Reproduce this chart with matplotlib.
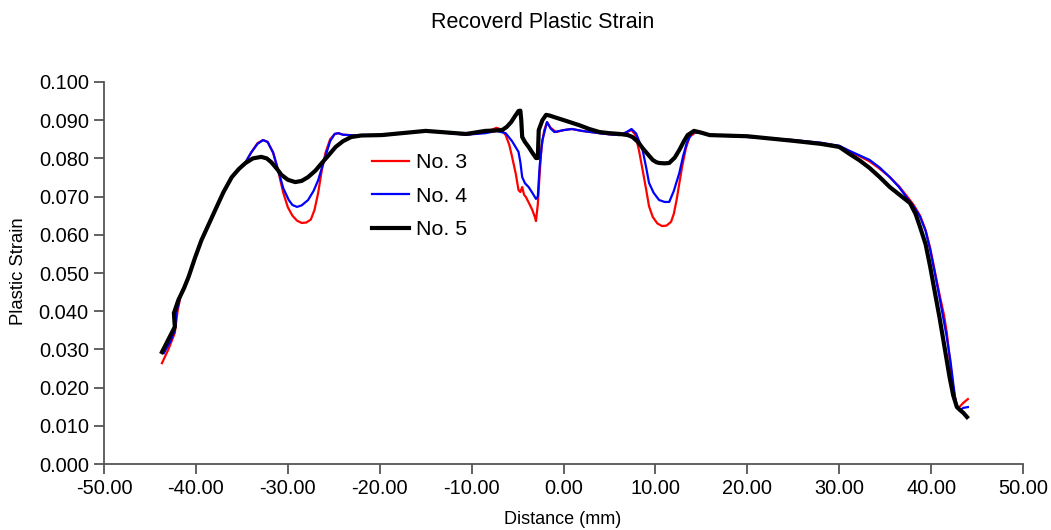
import matplotlib
matplotlib.use("Agg")
import matplotlib.pyplot as plt
from matplotlib.ticker import FormatStrFormatter, MultipleLocator

plt.rcParams['font.family'] = ['Liberation Sans', 'DejaVu Sans']

# No. 3 (red)
x3 = [-43.7, -43.0, -42.3, -42.0, -41.6, -40.8, -40.1, -39.4, -38.6, -37.9, -37.0, -36.1,
      -35.3, -34.6, -34.0, -33.3, -32.7, -32.2, -31.6, -31.0, -30.5, -30.0, -29.5, -29.0,
      -28.5, -28.0, -27.5, -27.1, -26.7, -26.3, -25.9, -25.4, -24.9, -24.5, -24.0, -22.0,
      -19.8, -15.0, -10.6, -8.5, -7.3, -6.8, -6.3, -5.9, -5.6, -5.2, -4.9, -4.7, -4.5,
      -4.3, -4.1, -3.7, -3.4, -3.1, -3.0, -2.8, -2.6, -2.4, -2.1, -1.8, -1.4, -0.8, 0.0,
      0.9, 2.0, 3.9, 5.0, 6.1, 6.8, 7.4, 7.8, 8.2, 8.6, 9.0, 9.3, 9.7, 10.2, 10.7, 11.2,
      11.7, 12.0, 12.3, 12.6, 12.9, 13.3, 13.7, 14.4, 15.0, 15.9, 20.0, 25.0, 28.0, 30.0,
      31.1, 32.2, 33.3, 34.4, 35.5, 36.5, 37.3, 38.1, 38.8, 39.4, 39.9, 40.4, 40.9, 41.4,
      41.7, 42.0, 42.4, 42.8, 43.1, 43.5, 44.0]
y3 = [0.0264, 0.0300, 0.0343, 0.0400, 0.0448, 0.0490, 0.0540, 0.0586, 0.0628, 0.0665, 0.0712, 0.0751,
      0.0773, 0.0790, 0.0815, 0.0840, 0.0848, 0.0843, 0.0815, 0.0762, 0.0710, 0.0672, 0.0650, 0.0637,
      0.0631, 0.0632, 0.0640, 0.0665, 0.0710, 0.0770, 0.0815, 0.0850, 0.0864, 0.0866, 0.0862, 0.0859,
      0.0860, 0.0872, 0.0862, 0.0868, 0.0880, 0.0876, 0.0861, 0.0835, 0.0804, 0.0760, 0.0717, 0.0712, 0.0725,
      0.0705, 0.0699, 0.0680, 0.0665, 0.0645, 0.0636, 0.0680, 0.0760, 0.0830, 0.0874, 0.0895, 0.0880, 0.0869, 0.0874,
      0.0877, 0.0872, 0.0866, 0.0863, 0.0861, 0.0868, 0.0874, 0.0862, 0.0822, 0.0770, 0.0717, 0.0675, 0.0647, 0.0630, 0.0623, 0.0624,
      0.0634, 0.0655, 0.0691, 0.0735, 0.0778, 0.0825, 0.0856, 0.0869, 0.0866, 0.0861, 0.0857, 0.0848, 0.0840, 0.0832,
      0.0819, 0.0806, 0.0792, 0.0773, 0.0751, 0.0727, 0.0703, 0.0678, 0.0650, 0.0612, 0.0565, 0.0505, 0.0445, 0.0390,
      0.0345, 0.0280, 0.0200, 0.0149, 0.0150, 0.0160, 0.0170]

# No. 4 (blue)
x4 = [-43.5, -42.8, -42.3, -42.1, -41.6, -40.8, -40.1, -39.4, -38.6, -37.9, -37.0, -36.1,
      -35.3, -34.6, -34.0, -33.3, -32.7, -32.2, -31.6, -31.0, -30.5, -29.9, -29.5, -29.0,
      -28.5, -27.8, -27.2, -26.7, -26.3, -25.9, -25.4, -24.9, -24.5, -24.0, -22.0,
      -19.8, -15.0, -10.6, -8.5, -7.3, -6.3, -5.6, -4.9, -4.7, -4.5, -4.2, -3.8, -3.4,
      -3.0, -2.8, -2.6, -2.3, -1.8, -1.4, -1.0, 0.0, 0.9, 2.0, 3.9, 5.0, 6.1, 6.8, 7.4,
      7.9, 8.6, 9.0, 9.3, 9.8, 10.4, 11.0, 11.5, 12.0, 12.6, 13.0, 13.4, 14.0, 15.0, 15.9,
      20.0, 25.0, 28.0, 30.0, 31.1, 32.2, 33.3, 34.4, 35.5, 36.5, 37.3, 38.1, 38.8, 39.4,
      39.9, 40.4, 40.9, 41.3, 41.7, 42.1, 42.4, 42.6, 42.8, 43.1, 43.5, 44.0]
y4 = [0.0290, 0.0320, 0.0350, 0.0400, 0.0448, 0.0490, 0.0540, 0.0586, 0.0628, 0.0665, 0.0712, 0.0751,
      0.0773, 0.0790, 0.0815, 0.0838, 0.0848, 0.0843, 0.0815, 0.0765, 0.0722, 0.0691, 0.0678, 0.0673,
      0.0677, 0.0691, 0.0715, 0.0743, 0.0775, 0.0806, 0.0845, 0.0864, 0.0866, 0.0862, 0.0859,
      0.0860, 0.0872, 0.0862, 0.0866, 0.0872, 0.0866, 0.0845, 0.0817, 0.0790, 0.0751, 0.0735, 0.0725, 0.0710,
      0.0694, 0.0700, 0.0780, 0.0848, 0.0895, 0.0878, 0.0869, 0.0874, 0.0877, 0.0872, 0.0866, 0.0863, 0.0861, 0.0868, 0.0877,
      0.0865, 0.0822, 0.0775, 0.0736, 0.0710, 0.0691, 0.0686, 0.0686, 0.0715, 0.0762, 0.0805, 0.0840, 0.0869, 0.0866, 0.0861,
      0.0856, 0.0848, 0.0841, 0.0833, 0.0820, 0.0808, 0.0796, 0.0776, 0.0751, 0.0725, 0.0699, 0.0674, 0.0647, 0.0610,
      0.0560, 0.0500, 0.0437, 0.0385, 0.0332, 0.0270, 0.0212, 0.0175, 0.0149, 0.0140, 0.0147, 0.0149]

# No. 5 (black)
x5 = [-43.7, -42.3, -42.4, -41.9, -41.3, -40.8, -40.1, -39.4, -38.6, -37.9, -37.0, -36.1,
      -35.3, -34.6, -33.8, -32.9, -32.3, -31.8, -31.2, -30.7, -30.0, -29.2, -28.5, -27.8,
      -27.0, -26.3, -25.5, -24.8, -24.0, -23.1, -22.0, -19.8, -15.0, -10.6, -8.5, -7.5,
      -6.7, -6.2, -5.7, -5.3, -4.9, -4.7, -4.6, -4.5, -4.2, -3.8, -3.4, -3.0, -2.8, -2.7,
      -2.3, -1.9, -1.5, -1.0, 0.3, 1.7, 2.8, 3.9, 5.0, 6.1, 7.0, 7.5, 8.1, 8.6, 9.2, 9.7,
      10.1, 10.4, 11.0, 11.5, 12.1, 12.6, 13.1, 13.5, 14.2, 14.9, 15.9, 20.0, 25.0, 28.0,
      30.0, 31.1, 32.2, 33.3, 34.4, 35.5, 36.6, 37.7, 38.3, 38.8, 39.4, 39.9, 40.4, 40.9,
      41.5, 42.0, 42.4, 42.8, 43.2, 43.5, 43.9]
y5 = [0.0293, 0.0359, 0.0395, 0.0430, 0.0460, 0.0490, 0.0540, 0.0586, 0.0628, 0.0665, 0.0712, 0.0751,
      0.0773, 0.0788, 0.0800, 0.0804, 0.0800, 0.0790, 0.0773, 0.0757, 0.0744, 0.0738, 0.0741, 0.0751,
      0.0768, 0.0788, 0.0810, 0.0830, 0.0845, 0.0856, 0.0860, 0.0861, 0.0872, 0.0864, 0.0872, 0.0873,
      0.0874, 0.0882, 0.0895, 0.0910, 0.0924, 0.0925, 0.0900, 0.0856, 0.0843, 0.0830, 0.0815, 0.0801, 0.0801, 0.0874,
      0.0900, 0.0914, 0.0912, 0.0908, 0.0898, 0.0887, 0.0877, 0.0869, 0.0866, 0.0864, 0.0861, 0.0856, 0.0843, 0.0827, 0.0810, 0.0796,
      0.0790, 0.0788, 0.0787, 0.0788, 0.0802, 0.0822, 0.0845, 0.0861, 0.0872, 0.0868, 0.0861, 0.0858, 0.0846, 0.0838,
      0.0830, 0.0812, 0.0795, 0.0775, 0.0751, 0.0725, 0.0704, 0.0683, 0.0655, 0.0620, 0.0575, 0.0516, 0.0450, 0.0385,
      0.0300, 0.0228, 0.0180, 0.0149, 0.0140, 0.0134, 0.0123]

fig = plt.figure(figsize=(10.51, 5.30), dpi=100)
ax = fig.add_axes([0.099, 0.1245, 0.8744, 0.7208])

ax.plot(x3, y3, color="#ff0000", lw=1.6, label="No. 3", solid_joinstyle="round")
ax.plot(x4, y4, color="#0000ff", lw=1.6, label="No. 4", solid_joinstyle="round")
ax.plot(x5, y5, color="#000000", lw=3.0, label="No. 5", solid_joinstyle="round")

ax.set_xlim(-50, 50)
ax.set_ylim(0, 0.1)
ax.xaxis.set_major_locator(MultipleLocator(10))
ax.yaxis.set_major_locator(MultipleLocator(0.01))
ax.xaxis.set_major_formatter(FormatStrFormatter("%.2f"))
ax.yaxis.set_major_formatter(FormatStrFormatter("%.3f"))

for s in ["top", "right"]:
    ax.spines[s].set_visible(False)
for s in ["left", "bottom"]:
    ax.spines[s].set_color("#555555")
    ax.spines[s].set_linewidth(1.3)
ax.tick_params(direction="out", length=7, width=1.3, color="#555555", labelsize=14.4, pad=4)

fig.text(543 / 1051, 1 - 23 / 530, "Recoverd Plastic Strain", ha="center", va="center", fontsize=15.5)
fig.text(563 / 1051, 1 - 520 / 530, "Distance (mm)", ha="center", va="center", fontsize=13)
fig.text(19 / 1051, 1 - 271 / 530, "Plastic Strain", ha="center", va="center", rotation=90, fontsize=13.3)

ax.legend(loc="upper left", bbox_to_anchor=(372 / 1051, 1 - 153 / 530), bbox_transform=fig.transFigure,
          frameon=False, fontsize=15.4, handlelength=1.75, handletextpad=0.3, labelspacing=0.68,
          borderpad=0, borderaxespad=0)

fig.savefig("out.png", dpi=100)
